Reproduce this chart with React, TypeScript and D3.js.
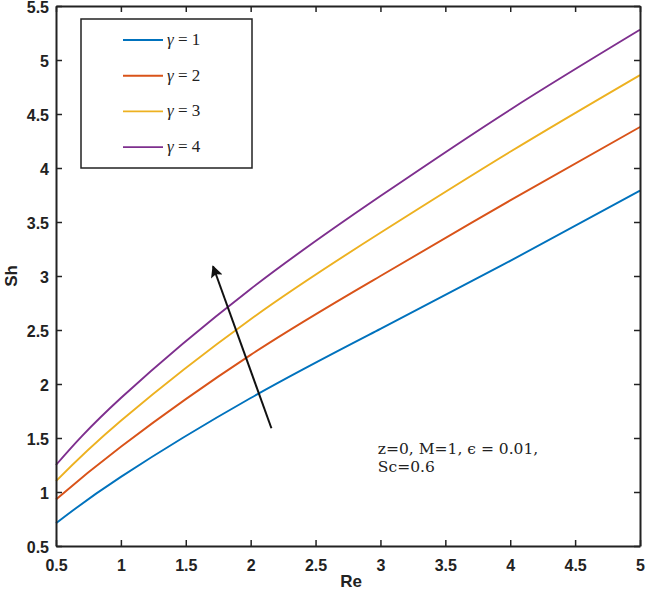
import * as d3 from 'd3';
import { useEffect, useRef } from 'react';

// Re values where the curves were read
const reValues = [0.5, 1, 2, 3, 4, 5];
// Sh for each gamma
const shGamma1 = [0.71, 1.14, 1.87, 2.51, 3.14, 3.79];
const shGamma2 = [0.93, 1.42, 2.27, 3.0, 3.7, 4.38];
const shGamma3 = [1.1, 1.66, 2.6, 3.4, 4.15, 4.86];
const shGamma4 = [1.25, 1.87, 2.88, 3.74, 4.54, 5.28];
const gammaValues = ['1', '2', '3', '4'];
const seriesColors = ['#0072BD', '#D95319', '#EDB120', '#7E2F8E'];
const xTicks = [0.5, 1, 1.5, 2, 2.5, 3, 3.5, 4, 4.5, 5];
const yTicks = [0.5, 1, 1.5, 2, 2.5, 3, 3.5, 4, 4.5, 5, 5.5];
// arrow from (Re, Sh) to (Re, Sh)
const arrowFrom = [2.16, 1.59];
const arrowTo = [1.71, 3.09];
const noteLines = ['z=0, M=1, \u03F5 = 0.01,', 'Sc=0.6'];

const App = () => {
  const ref = useRef(null);

  useEffect(() => {
    const svg = d3.select(ref.current);
    svg.selectAll('*').remove();

    const width = 647;
    const height = 592;
    const margin = { top: 6, right: 7, bottom: 46, left: 56 };

    const x = d3.scaleLinear().domain([0.5, 5]).range([margin.left, width - margin.right]);
    const y = d3.scaleLinear().domain([0.5, 5.5]).range([height - margin.bottom, margin.top]);

    svg.append('rect').attr('width', width).attr('height', height).attr('fill', 'white');

    const series = [shGamma1, shGamma2, shGamma3, shGamma4];
    const line = d3.line().x(d => x(d[0])).y(d => y(d[1])).curve(d3.curveNatural);

    series.forEach((vals, i) => {
      svg.append('path')
        .datum(reValues.map((r, j) => [r, vals[j]]))
        .attr('d', line)
        .attr('fill', 'none')
        .attr('stroke', seriesColors[i])
        .attr('stroke-width', 1.9);
    });

    // axes, ticks inward on all four sides
    const tickFont = (g) => g.selectAll('text')
      .style('font-family', '"Liberation Sans", Arial, sans-serif')
      .style('font-weight', 'bold')
      .style('font-size', '16px')
      .attr('fill', '#222');

    const x0 = height - margin.bottom;
    const xAxis = svg.append('g')
      .attr('transform', `translate(0,${x0})`)
      .call(d3.axisBottom(x).tickValues(xTicks).tickFormat(d3.format('')).tickSizeInner(-6).tickSizeOuter(0).tickPadding(14));
    xAxis.call(tickFont);
    svg.append('g')
      .attr('transform', `translate(0,${margin.top})`)
      .call(d3.axisTop(x).tickValues(xTicks).tickFormat(() => '').tickSizeInner(-6).tickSizeOuter(0));
    const yAxis = svg.append('g')
      .attr('transform', `translate(${margin.left},0)`)
      .call(d3.axisLeft(y).tickValues(yTicks).tickFormat(d3.format('')).tickSizeInner(-6).tickSizeOuter(0).tickPadding(7));
    yAxis.call(tickFont);
    yAxis.selectAll('text').attr('dy', '0.4em');
    svg.selectAll('.domain').attr('stroke', '#222').attr('stroke-width', 2);
    svg.append('g')
      .attr('transform', `translate(${width - margin.right},0)`)
      .call(d3.axisRight(y).tickValues(yTicks).tickFormat(() => '').tickSizeInner(-6).tickSizeOuter(0))
      .select('.domain').attr('stroke', '#222').attr('stroke-width', 2);
    svg.selectAll('.tick line').attr('stroke', '#222').attr('stroke-width', 1.5);

    // axis titles
    svg.append('text')
      .attr('x', (margin.left + width - margin.right) / 2 + 3)
      .attr('y', 587)
      .attr('text-anchor', 'middle')
      .style('font-family', '"Liberation Sans", Arial, sans-serif')
      .style('font-weight', 'bold')
      .style('font-size', '17px')
      .attr('fill', '#222')
      .text('Re');
    svg.append('text')
      .attr('transform', `translate(17,${(margin.top + height - margin.bottom) / 2}) rotate(-90)`)
      .attr('text-anchor', 'middle')
      .style('font-family', '"Liberation Sans", Arial, sans-serif')
      .style('font-weight', 'bold')
      .style('font-size', '17px')
      .attr('fill', '#222')
      .text('Sh');

    // arrow
    svg.append('defs').append('marker')
      .attr('id', 'arrowhead')
      .attr('viewBox', '0 0 10 10')
      .attr('refX', 9)
      .attr('refY', 5)
      .attr('markerWidth', 7)
      .attr('markerHeight', 6)
      .attr('markerUnits', 'strokeWidth')
      .attr('orient', 'auto')
      .append('path')
      .attr('d', 'M0,0 L10,5 L0,10 L2,5 Z')
      .attr('fill', '#111');
    svg.append('line')
      .attr('x1', x(arrowFrom[0])).attr('y1', y(arrowFrom[1]))
      .attr('x2', x(arrowTo[0])).attr('y2', y(arrowTo[1]))
      .attr('stroke', '#111')
      .attr('stroke-width', 2)
      .attr('marker-end', 'url(#arrowhead)');

    // note
    noteLines.forEach((t, i) => {
      svg.append('text')
        .attr('x', x(2.98))
        .attr('y', y(1.35) + i * 18)
        .style('font-family', '"DejaVu Serif", "Liberation Serif", serif')
        .style('font-size', '15.5px')
        .attr('fill', '#222')
        .text(t);
    });

    // legend
    const legend = svg.append('g').attr('transform', 'translate(81,19)');
    legend.append('rect')
      .attr('width', 171)
      .attr('height', 149)
      .attr('fill', 'white')
      .attr('stroke', '#222')
      .attr('stroke-width', 1.5);
    gammaValues.forEach((g, i) => {
      const row = legend.append('g').attr('transform', `translate(0,${21 + i * 35.7})`);
      row.append('line')
        .attr('x1', 42).attr('x2', 82)
        .attr('stroke', seriesColors[i])
        .attr('stroke-width', 1.9);
      const t = row.append('text')
        .attr('x', 86)
        .attr('y', 5)
        .style('font-family', '"Liberation Serif", serif')
        .style('font-size', '17px')
        .attr('fill', '#222');
      t.append('tspan').style('font-style', 'italic').text('\u03B3');
      t.append('tspan').text(` = ${g}`);
    });
  }, []);

  return <svg ref={ref} width={647} height={592} style={{ position: 'absolute', left: 0, top: 0 }} />;
};

export default App;
